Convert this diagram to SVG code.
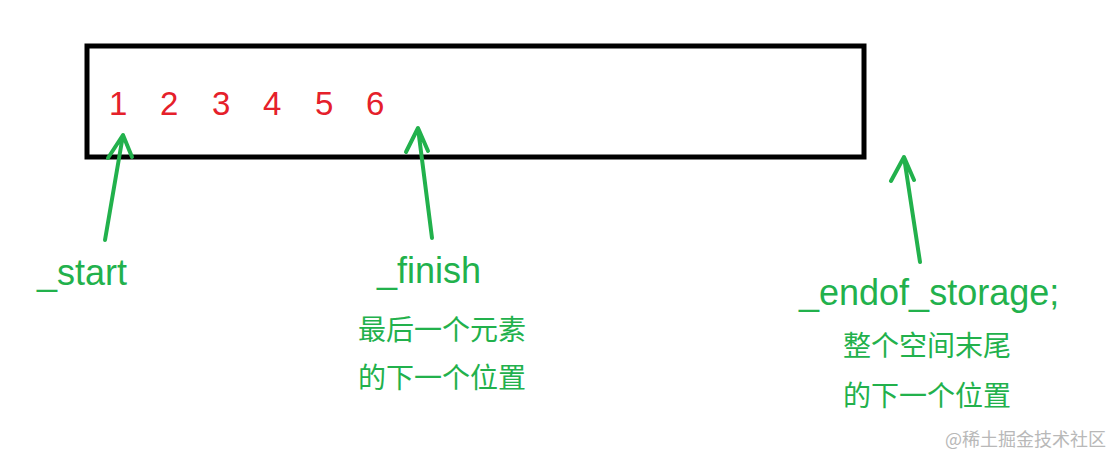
<svg xmlns="http://www.w3.org/2000/svg" width="1115" height="457" viewBox="0 0 1115 457">
<style>
.n{font-family:"Liberation Sans","Noto Sans",sans-serif;font-size:33px;fill:#e5202a}
.g{font-family:"Liberation Sans","Noto Sans",sans-serif;font-size:36px;fill:#22b14c}
.c{font-family:"Noto Sans CJK SC",sans-serif;font-size:28px;fill:#22b14c}
.a{stroke:#22b14c;stroke-width:4;fill:none;stroke-linecap:round;stroke-linejoin:round}
</style>
<rect width="1115" height="457" fill="#fff"/>
<g id="box"><rect x="87" y="46" width="777" height="111" fill="none" stroke="#000" stroke-width="5"/>
<text class="n" y="115"><tspan x="109">1</tspan><tspan x="160">2</tspan><tspan x="212">3</tspan><tspan x="263">4</tspan><tspan x="315">5</tspan><tspan x="366">6</tspan></text></g>
<g id="connectors">
<path class="a" d="M105 240L123 135M108 158L123 135L132 157"/>
<path class="a" d="M432 238L418 128M406 152L418 128L428 151"/>
<path class="a" d="M920 262L904 157M891 181L904 157L914 180"/>
</g>
<g id="start"><text class="g" x="37" y="285">_start</text></g>
<g id="finish"><text class="g" x="377" y="283">_finish</text><text class="c" x="358" y="340">最后一个元素</text><text class="c" x="358" y="388">的下一个位置</text></g>
<g id="endof"><text class="g" x="799" y="305">_endof_storage;</text><text class="c" x="843" y="356">整个空间末尾</text><text class="c" x="843" y="406">的下一个位置</text></g>
<text x="945" y="446" font-family="Noto Sans CJK SC,sans-serif" font-size="18" fill="#b8b8b8">@稀土掘金技术社区</text>
</svg>
